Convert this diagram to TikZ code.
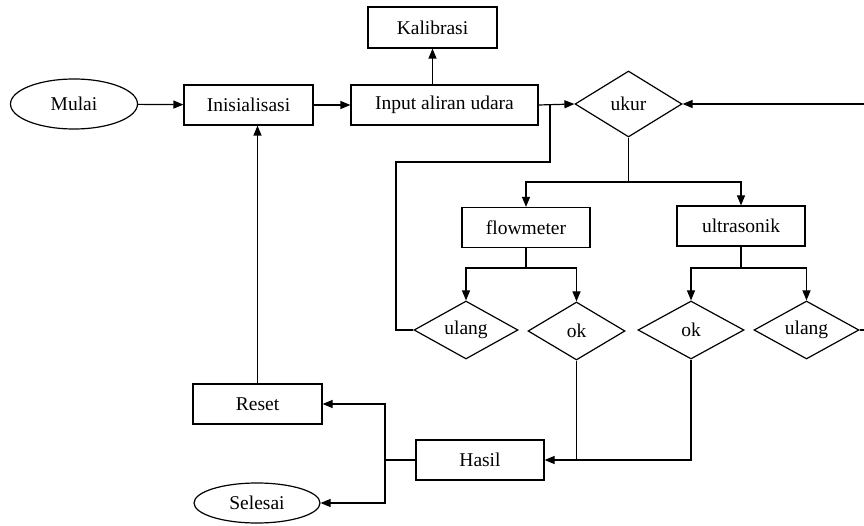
\documentclass[tikz,border=0pt]{standalone}
\usepackage{fontspec}
\setmainfont{Liberation Serif}
\usetikzlibrary{shapes.geometric,arrows.meta}
\tikzstyle{box}=[rectangle, draw, line width=1.2pt, inner sep=0pt, minimum height=40pt]
\tikzstyle{term}=[ellipse, draw, line width=1.2pt, inner sep=0pt]
\tikzstyle{cond}=[diamond, draw, line width=1.2pt, aspect=2, inner sep=0pt, minimum height=58pt]
\tikzstyle{arr}=[line width=1.2pt, -{Triangle[length=10pt,width=8pt]}]
\tikzstyle{wire}=[line width=1.2pt]

\begin{document}
\begin{tikzpicture}[x=1pt, y=-1pt, font=\fontsize{19.5}{23}\selectfont]
	\useasboundingbox (0,0) rectangle (864,526);
	% top row
	\node[term, minimum width=127pt, minimum height=50pt] (mulai) at (74,104) {Mulai};
	\node[box, minimum width=129pt] (init) at (248.5,105) {Inisialisasi};
	\node[box, minimum width=187pt] (input) at (444.5,105) {Input aliran udara};
	\node[box, minimum width=129pt, minimum height=41pt] (kalib) at (432.5,27.5) {Kalibrasi};
	\node[cond, minimum width=107pt, minimum height=66pt] (ukur) at (628.5,104) {ukur};
	% sensors
	\node[box, minimum width=128pt] (flowm) at (526,227.5) {flowmeter};
	\node[box, minimum width=128pt] (ultra) at (741,226) {ultrasonik};
	% decisions
	\node[cond, minimum width=104pt] (ulangA) at (466,330) {ulang};
	\node[cond, minimum width=97pt] (okA) at (576.5,331) {ok};
	\node[cond, minimum width=106pt] (okB) at (691,330) {ok};
	\node[cond, minimum width=105pt] (ulangB) at (806.5,330) {ulang};
	% bottom part
	\node[box, minimum width=128pt] (hasil) at (480,460) {Hasil};
	\node[box, minimum width=129pt] (reset) at (257.5,404) {Reset};
	\node[term, minimum width=126pt, minimum height=40pt] (selesai) at (257,503) {Selesai};
	% helper points
	\coordinate (ukurfork) at (628.5,182);
	\coordinate (flowfork) at (526,268);
	\coordinate (ultrafork) at (741,268);
	\coordinate (hasilin) at (576.5,460);
	\coordinate (hasilout) at (385,460);
	\coordinate (loopA) at (396,162);
	\coordinate (joinA) at (550,105);
	\coordinate (loopB) at (868,330);

	% arrows along the top
	\draw[arr] (mulai) -- (init);
	\draw[arr] (init) -- (input);
	\draw[arr] (input.north -| kalib.south) -- (kalib.south);
	\draw[arr] (input.east) -- (ukur.west);
	% ukur to the two sensors
	\draw[wire] (ukur.south) -- (ukurfork);
	\draw[arr] (ukurfork) -| (flowm.north);
	\draw[arr] (ukurfork) -| (ultra.north);
	\draw[wire] (flowm.south) -- (flowfork);
	\draw[arr] (flowfork) -| (ulangA.north);
	\draw[arr] (flowfork) -| (okA.north);
	\draw[wire] (ultra.south) -- (ultrafork);
	\draw[arr] (ultrafork) -| (okB.north);
	\draw[arr] (ultrafork) -| (ulangB.north);
	% repeat loops
	\draw[wire] (ulangA.west) -| (loopA) -| (joinA);
	\draw[arr] (ulangB.east) -- (loopB) |- (ukur.east);
	% results
	\draw[wire] (okA.south) -- (hasilin);
	\draw[arr] (okB.south) |- (hasil.east);
	\draw[wire] (hasil.west) -- (hasilout);
	\draw[arr] (hasilout) |- (reset.east);
	\draw[arr] (hasilout) |- (selesai.east);
	\draw[arr] (reset.north) -- (reset.north |- init.south);
\end{tikzpicture}
\end{document}
